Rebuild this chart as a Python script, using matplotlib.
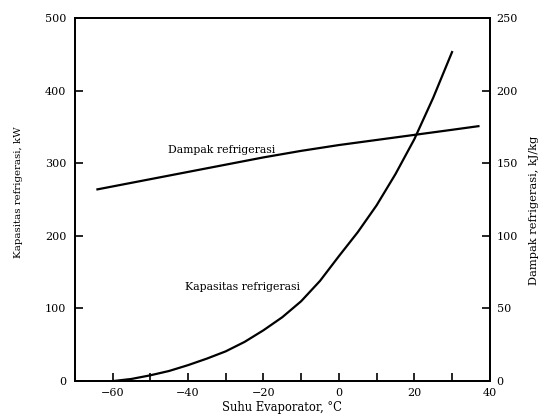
import matplotlib
matplotlib.use('Agg')
from matplotlib import pyplot as plt
from matplotlib.ticker import MultipleLocator, FuncFormatter

# Huruf serif seperti buku teks
matplotlib.rcParams['font.family'] = ['DejaVu Serif']

# Kapasitas refrigerasi (kW) terhadap suhu evaporator (°C)
suhu_kapasitas = [-60, -55, -50, -45, -40, -35, -30, -25, -20, -15, -10, -5,
                  0, 5, 10, 15, 20, 25, 30]
kapasitas = [0, 3, 8, 14, 22, 31, 41, 54, 70, 88, 110, 138,
             172, 205, 242, 285, 333, 390, 453]

# Dampak refrigerasi (kJ/kg) terhadap suhu evaporator (°C)
suhu_dampak = [-64, -50, -40, -30, -20, -10, 0, 10, 20, 30, 37]
dampak = [132, 139, 144, 149, 154, 158.5, 162.5, 166, 169.5, 173, 175.5]

fig = plt.figure(figsize=(5.46, 4.17), dpi=100)
ax = fig.add_axes([0.137, 0.086, 0.76, 0.871])
ax2 = ax.twinx()

ax.plot(suhu_kapasitas, kapasitas, color='black', linewidth=1.6)
ax2.plot(suhu_dampak, dampak, color='black', linewidth=1.6)

ax.set_xlim(-70, 40)
ax.set_ylim(0, 500)
ax2.set_ylim(0, 250)

ax.xaxis.set_major_locator(MultipleLocator(20))
ax.xaxis.set_minor_locator(MultipleLocator(10))
ax.yaxis.set_major_locator(MultipleLocator(100))
ax2.yaxis.set_major_locator(MultipleLocator(50))

ax.tick_params(axis='both', which='both', direction='in', labelsize=8,
               width=1.2, length=6)
ax.tick_params(axis='x', which='major', pad=5)
ax.tick_params(axis='y', pad=6)
ax2.tick_params(axis='y', direction='in', labelsize=8, length=6, width=1.2, pad=5)

# tanda minus pada label sumbu x
ax.xaxis.set_major_formatter(FuncFormatter(lambda v, p: f'{int(v)}'.replace('-', '\u2212')))

for a in (ax, ax2):
    for s in a.spines.values():
        s.set_linewidth(1.3)

ax.set_xlabel('Suhu Evaporator, °C', fontsize=8.3, labelpad=2)
ax.set_ylabel('Kapasitas refrigerasi, kW', fontsize=7.4)
ax.yaxis.set_label_coords(-0.125, 0.52)
ax2.set_ylabel('Dampak refrigerasi, kJ/kg', fontsize=8.2)
ax2.yaxis.set_label_coords(1.095, 0.47)

ax.text(-31, 318, 'Dampak refrigerasi', fontsize=7.8, ha='center', va='center')
ax.text(-25.5, 129, 'Kapasitas refrigerasi', fontsize=7.8, ha='center', va='center')

fig.savefig('out.png', dpi=100)
